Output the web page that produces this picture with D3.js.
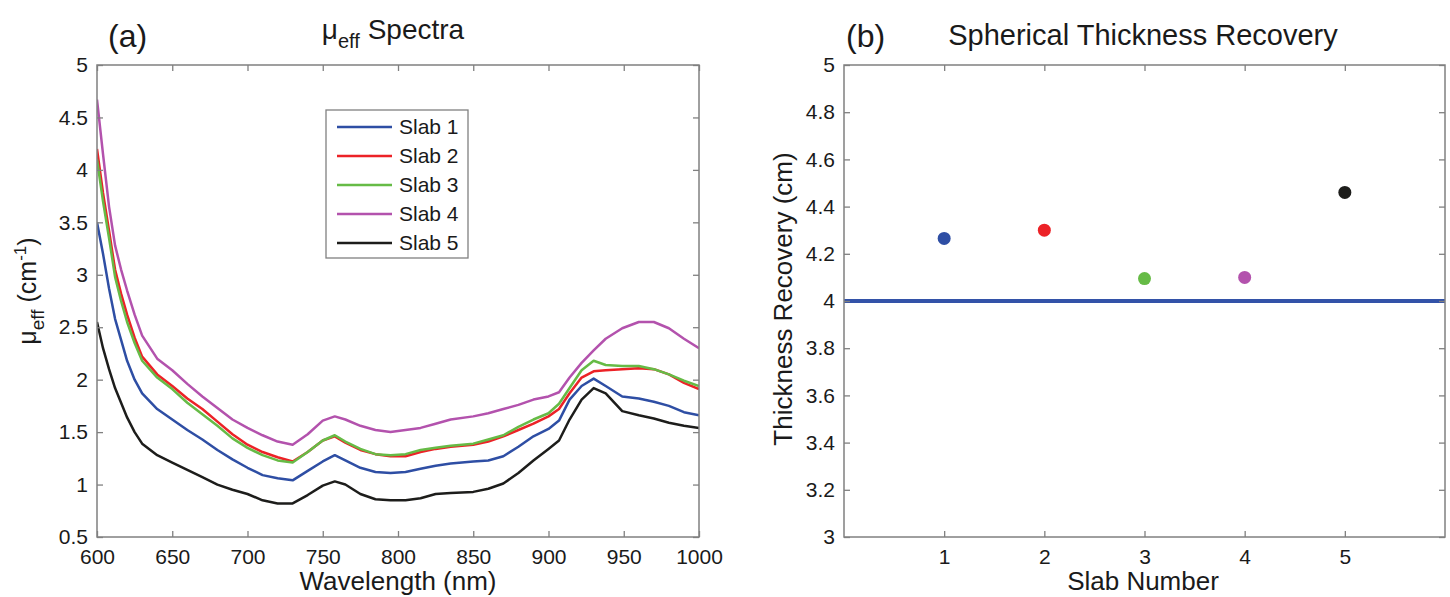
<!DOCTYPE html>
<html lang="en">
<head>
    <meta charset="UTF-8">
    <title>Spectra and Thickness Recovery</title>
    <script src="https://d3js.org/d3.v7.min.js"></script>
    <style>
        body {
            margin: 0;
            padding: 0;
            background: #fff;
            font-family: "Liberation Sans", Arial, sans-serif;
        }
        .axis text {
            font-family: "Liberation Sans", Arial, sans-serif;
            font-size: 21px;
            fill: #1a1a1a;
        }
        .axis line {
            stroke: #808080;
            stroke-width: 1.3;
        }
        .axis path {
            display: none;
        }
    </style>
</head>
<body>
    <svg width="1450" height="597"></svg>

    <script>
        // ---- data ----
        const wavelengths = [600, 604, 608, 612, 616, 620, 625, 630, 640, 650, 660, 670, 680, 690, 700,
            710, 720, 730, 740, 750, 758, 765, 775, 785, 795, 805, 815, 825, 835, 850, 860, 870, 880,
            890, 900, 907, 914, 922, 930, 938, 949, 960, 970, 980, 990, 1000];

        const slab1 = [3.50, 3.20, 2.87, 2.58, 2.38, 2.18, 2.00, 1.87, 1.72, 1.62, 1.52, 1.43, 1.33, 1.24, 1.16,
            1.09, 1.06, 1.04, 1.13, 1.22, 1.28, 1.23, 1.16, 1.12, 1.11, 1.12, 1.15, 1.18, 1.20, 1.22, 1.23, 1.27, 1.36,
            1.46, 1.53, 1.61, 1.81, 1.94, 2.01, 1.94, 1.84, 1.82, 1.79, 1.75, 1.69, 1.66];
        const slab2 = [4.20, 3.78, 3.42, 3.05, 2.82, 2.62, 2.40, 2.22, 2.05, 1.94, 1.82, 1.72, 1.60, 1.48, 1.38,
            1.31, 1.26, 1.22, 1.31, 1.42, 1.46, 1.40, 1.33, 1.29, 1.27, 1.27, 1.31, 1.34, 1.36, 1.38, 1.41, 1.46, 1.52,
            1.58, 1.65, 1.72, 1.87, 2.02, 2.08, 2.09, 2.10, 2.11, 2.10, 2.05, 1.97, 1.91];
        const slab3 = [4.10, 3.70, 3.35, 2.98, 2.75, 2.55, 2.35, 2.18, 2.02, 1.91, 1.78, 1.67, 1.56, 1.44, 1.35,
            1.28, 1.23, 1.21, 1.31, 1.42, 1.47, 1.41, 1.34, 1.29, 1.28, 1.29, 1.33, 1.35, 1.37, 1.39, 1.43, 1.47, 1.55,
            1.62, 1.68, 1.77, 1.92, 2.09, 2.18, 2.14, 2.13, 2.13, 2.10, 2.05, 1.99, 1.94];
        const slab4 = [4.67, 4.15, 3.65, 3.28, 3.05, 2.85, 2.62, 2.42, 2.20, 2.09, 1.96, 1.84, 1.73, 1.62, 1.54,
            1.47, 1.41, 1.38, 1.48, 1.61, 1.65, 1.62, 1.56, 1.52, 1.50, 1.52, 1.54, 1.58, 1.62, 1.65, 1.68, 1.72, 1.76,
            1.81, 1.84, 1.88, 2.02, 2.16, 2.28, 2.39, 2.49, 2.55, 2.55, 2.49, 2.39, 2.30];
        const slab5 = [2.55, 2.30, 2.10, 1.92, 1.78, 1.64, 1.50, 1.39, 1.28, 1.21, 1.14, 1.07, 1.00, 0.95, 0.91,
            0.85, 0.82, 0.82, 0.90, 0.99, 1.03, 1.00, 0.91, 0.86, 0.85, 0.85, 0.87, 0.91, 0.92, 0.93, 0.96, 1.01, 1.11,
            1.23, 1.34, 1.42, 1.62, 1.81, 1.92, 1.87, 1.70, 1.66, 1.63, 1.59, 1.56, 1.54];

        const slabNames = ["Slab 1", "Slab 2", "Slab 3", "Slab 4", "Slab 5"];
        const slabColors = ["#2e4ea4", "#ec2227", "#66bb46", "#b352ad", "#1d1d1b"];
        const spectra = [slab1, slab2, slab3, slab4, slab5];

        const slabNumbers = [1, 2, 3, 4, 5];
        const thickness = [4.265, 4.30, 4.095, 4.10, 4.46];
        const trueThickness = 4;

        const xTicksA = [600, 650, 700, 750, 800, 850, 900, 950, 1000];
        const yTicksA = [0.5, 1, 1.5, 2, 2.5, 3, 3.5, 4, 4.5, 5];
        const xTicksB = [1, 2, 3, 4, 5];
        const yTicksB = [3, 3.2, 3.4, 3.6, 3.8, 4, 4.2, 4.4, 4.6, 4.8, 5];

        const svg = d3.select("svg");
        const plotTop = 65, plotBottom = 537;

        // draws a matlab-like box with inward ticks on all sides
        function drawFrame(g, x, y, xTicks, yTicks) {
            const [x0, x1] = x.range();
            g.append("g").attr("class", "axis")
                .attr("transform", `translate(0,${plotBottom})`)
                .call(d3.axisBottom(x).tickValues(xTicks).tickSize(-6).tickPadding(12).tickFormat(d3.format("")));
            g.append("g").attr("class", "axis")
                .attr("transform", `translate(0,${plotTop})`)
                .call(d3.axisTop(x).tickValues(xTicks).tickSize(-6).tickFormat(""));
            g.append("g").attr("class", "axis")
                .attr("transform", `translate(${x0},0)`)
                .call(d3.axisLeft(y).tickValues(yTicks).tickSize(-6).tickPadding(9).tickFormat(d3.format("")));
            g.append("g").attr("class", "axis")
                .attr("transform", `translate(${x1},0)`)
                .call(d3.axisRight(y).tickValues(yTicks).tickSize(-6).tickFormat(""));
            g.append("rect")
                .attr("x", x0).attr("y", plotTop)
                .attr("width", x1 - x0).attr("height", plotBottom - plotTop)
                .attr("fill", "none")
                .attr("stroke", "#808080")
                .attr("stroke-width", 1.5);
        }

        // ---- panel (a) ----
        const xA = d3.scaleLinear().domain([600, 1000]).range([97, 699]);
        const yA = d3.scaleLinear().domain([0.5, 5]).range([plotBottom, plotTop]);
        const gA = svg.append("g");

        gA.append("clipPath").attr("id", "clipA")
            .append("rect").attr("x", 97).attr("y", plotTop).attr("width", 602).attr("height", plotBottom - plotTop);

        const line = d3.line()
            .x((d, i) => xA(wavelengths[i]))
            .y(d => yA(d));

        gA.append("g").attr("clip-path", "url(#clipA)")
            .selectAll("path")
            .data(spectra)
            .enter()
            .append("path")
            .attr("d", line)
            .attr("fill", "none")
            .attr("stroke", (d, i) => slabColors[i])
            .attr("stroke-width", 2.5)
            .attr("stroke-linejoin", "round");

        drawFrame(gA, xA, yA, xTicksA, yTicksA);

        // legend
        const legend = gA.append("g").attr("transform", "translate(326,110)");
        legend.append("rect")
            .attr("width", 142).attr("height", 148)
            .attr("fill", "#fff")
            .attr("stroke", "#808080")
            .attr("stroke-width", 1.3);
        slabNames.forEach((name, i) => {
            const ly = 17 + i * 29;
            legend.append("line")
                .attr("x1", 11).attr("x2", 66)
                .attr("y1", ly).attr("y2", ly)
                .attr("stroke", slabColors[i])
                .attr("stroke-width", 2.5);
            legend.append("text")
                .attr("x", 73).attr("y", ly + 7)
                .attr("font-size", 21)
                .attr("fill", "#1a1a1a")
                .text(name);
        });

        svg.append("text")
            .attr("x", 108).attr("y", 47)
            .attr("font-size", 32)
            .attr("fill", "#1a1a1a")
            .text("(a)");

        const titleA = svg.append("text")
            .attr("x", 393).attr("y", 39)
            .attr("text-anchor", "middle")
            .attr("font-size", 28)
            .attr("fill", "#1a1a1a");
        titleA.append("tspan").text("μ");
        titleA.append("tspan").attr("font-size", 20).attr("dy", 9).text("eff");
        titleA.append("tspan").attr("dy", -9).text(" Spectra");

        svg.append("text")
            .attr("x", xA(800)).attr("y", 590)
            .attr("text-anchor", "middle")
            .attr("font-size", 26)
            .attr("fill", "#1a1a1a")
            .text("Wavelength (nm)");

        const yLabelA = svg.append("text")
            .attr("transform", `translate(36,${(plotTop + plotBottom) / 2 - 10}) rotate(-90)`)
            .attr("text-anchor", "middle")
            .attr("font-size", 25)
            .attr("fill", "#1a1a1a");
        yLabelA.append("tspan").text("μ");
        yLabelA.append("tspan").attr("font-size", 19).attr("dy", 8).text("eff");
        yLabelA.append("tspan").attr("dy", -8).text(" (cm");
        yLabelA.append("tspan").attr("font-size", 17).attr("dy", -10).text("-1");
        yLabelA.append("tspan").attr("dy", 10).text(")");

        // ---- panel (b) ----
        const xB = d3.scaleLinear().domain([0, 6]).range([844, 1445]);
        const yB = d3.scaleLinear().domain([3, 5]).range([plotBottom, plotTop]);
        const gB = svg.append("g");

        gB.append("line")
            .attr("x1", xB(0)).attr("x2", xB(6))
            .attr("y1", yB(trueThickness)).attr("y2", yB(trueThickness))
            .attr("stroke", "#3352a8")
            .attr("stroke-width", 4);

        gB.selectAll("circle")
            .data(thickness)
            .enter()
            .append("circle")
            .attr("cx", (d, i) => xB(slabNumbers[i]))
            .attr("cy", d => yB(d))
            .attr("r", 6.5)
            .attr("fill", (d, i) => slabColors[i]);

        drawFrame(gB, xB, yB, xTicksB, yTicksB);

        svg.append("text")
            .attr("x", 846).attr("y", 47)
            .attr("font-size", 32)
            .attr("fill", "#1a1a1a")
            .text("(b)");

        svg.append("text")
            .attr("x", 1143).attr("y", 45)
            .attr("text-anchor", "middle")
            .attr("font-size", 29)
            .attr("fill", "#1a1a1a")
            .text("Spherical Thickness Recovery");

        svg.append("text")
            .attr("x", 1143).attr("y", 590)
            .attr("text-anchor", "middle")
            .attr("font-size", 26)
            .attr("fill", "#1a1a1a")
            .text("Slab Number");

        svg.append("text")
            .attr("transform", `translate(792,${(plotTop + plotBottom) / 2 - 2}) rotate(-90)`)
            .attr("text-anchor", "middle")
            .attr("font-size", 26)
            .attr("fill", "#1a1a1a")
            .text("Thickness Recovery (cm)");
    </script>
</body>
</html>
